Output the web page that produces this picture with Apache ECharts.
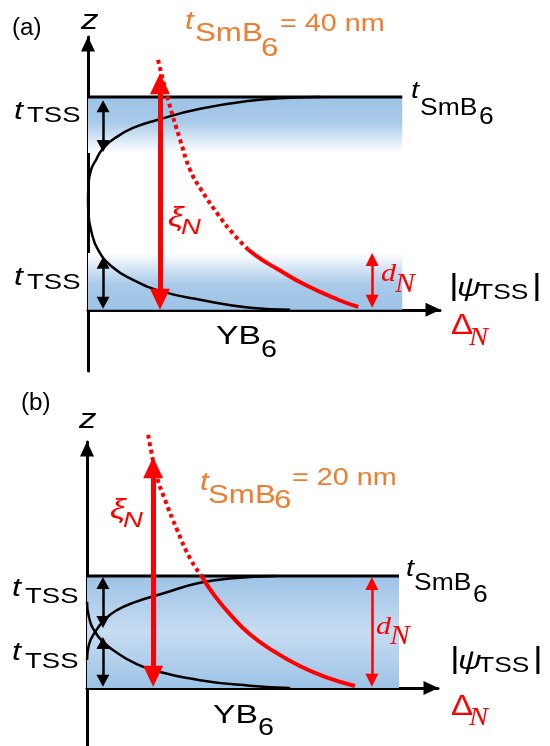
<!DOCTYPE html>
<html>
<head>
<meta charset="utf-8">
<script src="https://cdn.jsdelivr.net/npm/echarts@6/dist/echarts.min.js"></script>
<style>
html,body{margin:0;padding:0;background:#fff}
#chart{width:550px;height:746px}
</style>
</head>
<body>
<div id="chart"></div>
<script>
// x = |psi_TSS| / Delta_N (arb. units, slab width = 100), z in nm
var thickA = 40;            // panel (a) t_SmB6
var thickB = 20;            // panel (b) t_SmB6
var fadeA = [29.5, 10.7];   // where the blue shading of the two TSS fades out in (a)
var slabW = 100;

// black |psi_TSS| curves
var psiTopA = [[0,20.7],[0.16,23.5],[0.96,26.3],[2.55,28.2],[4.46,30.1],[8.6,32.3],[14.3,34.2],[22,35.7],[35.7,37.8],[51.6,39.3],[64.3,39.86],[73.9,40]];
var psiBotA = [[0,20.7],[0.16,17.9],[0.96,15],[3.18,11.3],[7.64,8.1],[14.3,5.64],[22.9,3.57],[35.7,1.88],[51.6,0.38],[64.3,0]];
var psiTopB = [[0,5],[0.6,7.7],[2.6,10],[5.8,12.3],[9.6,13.9],[14.7,15.2],[25.6,17.1],[36.2,18.8],[46.8,19.6],[60.3,20]];
var psiBotB = [[0,15.4],[0.6,12.7],[2.6,10],[5.8,7.9],[9.6,6.3],[14.7,4.6],[21.2,3.2],[36.2,1.4],[52.2,0.4],[65.1,0]];

// red Delta_N curves (dotted part outside SmB6, solid part inside)
var gapDotA = [[22.3,47],[25.5,39.5],[29.3,32],[32.5,26.3],[36,22.6],[41.4,17.9],[46.5,14.1],[51,11.3]];
var gapA = [[51,11.3],[55.4,9.4],[59.6,7.9],[69.1,4.7],[79.6,1.9],[86,0.56]];
var gapDotB = [[19.6,45.2],[20.5,42.5],[22.4,37.7],[25,33.6],[28.9,28.2],[33,23.2],[36.9,19.8]];
var gapB = [[36.9,19.8],[41,16.4],[45.8,13.2],[52.2,9.6],[60.3,6.4],[68.3,3.9],[76.3,2],[85.9,0.36]];

// arrows: [x, z bottom tip, z top tip]
var xiA = [22.9, 0, 44.5];
var tssA = [[4.8, 29.7, 39.4], [4.8, 0.2, 10.0]];
var dA = [90.4, 0.4, 10.7];
var xiB = [21.2, 0.2, 41.2];
var tssB = [[5.1, 10.7, 19.8], [5.1, 0.2, 9.1]];
var dB = [91.3, 0.2, 19.8];

var RED = '#FF0000', ORANGE = '#ED7D31', BLUE = '#9DC3E6', BLUE_LT = '#C6DCF1', K = '#000';

var grids = [
  {left: 88, top: 37, width: 352, height: 334},
  {left: 87, top: 442, width: 351, height: 304}
];
var zRange = [[-11.5, 51.3], [-10.36, 43.93]];
var xMax = [112, 112.5];

function axisLine() {
  return {show: true, onZero: true, symbol: ['none', 'triangle'], symbolSize: [14, 15],
    symbolOffset: [0, -7], lineStyle: {color: K, width: 3}};
}

var xAxes = [], yAxes = [];
for (var p = 0; p < 2; p++) {
  xAxes.push({type: 'value', gridIndex: p, min: 0, max: xMax[p], axisLine: axisLine(),
    axisTick: {show: false}, axisLabel: {show: false}, splitLine: {show: false}});
  yAxes.push({type: 'value', gridIndex: p, min: zRange[p][0], max: zRange[p][1], axisLine: axisLine(),
    axisTick: {show: false}, axisLabel: {show: false}, splitLine: {show: false}});
}

function grad(stops) {
  return new echarts.graphic.LinearGradient(0, 0, 0, 1, stops.map(function (s) {
    return {offset: s[0], color: s[1]};
  }));
}

function curve(data, color, lw, dash, panel) {
  return {type: 'line', xAxisIndex: panel, yAxisIndex: panel, data: data, smooth: 0.5,
    showSymbol: false, symbol: 'none', clip: false, silent: true, z: 3,
    lineStyle: {color: color, width: lw, type: dash || 'solid', cap: 'butt'}};
}

// double headed arrow, tips land on the given z values
function arrow(a, w, h, color, lw, panel) {
  var ppn = grids[panel].height / (zRange[panel][1] - zRange[panel][0]);
  var d = h / 2 / ppn;
  return {type: 'line', xAxisIndex: panel, yAxisIndex: panel, data: [], silent: true, z: 5,
    markLine: {silent: true, animation: false, symbol: ['triangle', 'triangle'], symbolSize: [w, h],
      label: {show: false}, emphasis: {disabled: true},
      lineStyle: {color: color, width: lw, type: 'solid', opacity: 1},
      data: [[{coord: [a[0], a[1] + d]}, {coord: [a[0], a[2] - d]}]]}};
}

function slab(thick, areas, panel) {
  return {type: 'line', xAxisIndex: panel, yAxisIndex: panel, data: [[0, thick], [slabW, thick]],
    showSymbol: false, symbol: 'none', silent: true, z: 2,
    lineStyle: {color: K, width: 3},
    markArea: {silent: true, z: 1, data: areas}};
}

var series = [
  slab(thickA, [
    [{coord: [0, thickA], itemStyle: {color: grad([[0, BLUE], [0.45, '#A9CAE9'], [1, '#FFFFFF']])}}, {coord: [slabW, fadeA[0]]}],
    [{coord: [0, fadeA[1]], itemStyle: {color: grad([[0, '#FFFFFF'], [0.55, '#A9CAE9'], [1, BLUE]])}}, {coord: [slabW, 0]}]
  ], 0),
  slab(thickB, [
    [{coord: [0, thickB], itemStyle: {color: grad([[0, BLUE], [0.5, BLUE_LT], [1, BLUE]])}}, {coord: [slabW, 0]}]
  ], 1),
  curve(psiTopA, K, 2.5, null, 0),
  curve(psiBotA, K, 2.5, null, 0),
  curve(psiTopB, K, 2.5, null, 1),
  curve(psiBotB, K, 2.5, null, 1),
  curve(gapDotA, RED, 4, [4, 3.5], 0),
  curve(gapA, RED, 4, null, 0),
  curve(gapDotB, RED, 4, [4, 3.5], 1),
  curve(gapB, RED, 4, null, 1),
  arrow(xiA, 20, 21, RED, 5, 0),
  arrow(tssA[0], 13, 12, K, 2.5, 0),
  arrow(tssA[1], 13, 12, K, 2.5, 0),
  arrow(dA, 13, 13, RED, 2.5, 0),
  arrow(xiB, 20, 21, RED, 5, 1),
  arrow(tssB[0], 13, 12, K, 2.5, 1),
  arrow(tssB[1], 13, 12, K, 2.5, 1),
  arrow(dB, 13, 13, RED, 2.5, 1)
];

var S = '"Liberation Sans", Arial, sans-serif';
var SER = '"Liberation Serif", "DejaVu Serif", serif';
// [text, left, middle, size, colour, italic, family, stretch]
var labels = [
  ['(a)', 12, 29, 23, K, 0, S, 1.05],
  ['z', 81, 21, 28, K, 1, S],
  ['t', 14, 112, 26, K, 1, S], ['TSS', 27, 116, 22, K, 0, S],
  ['t', 14, 278, 26, K, 1, S], ['TSS', 27, 283, 22, K, 0, S],
  ['t', 411, 92, 23, K, 1, S], ['SmB', 420, 108.5, 23, K, 0, S, 1.15], ['6', 479, 118, 23, K, 0, S, 1.15],
  ['t', 185, 22, 25, ORANGE, 1, S], ['SmB', 195, 34, 25, ORANGE, 0, S], ['6', 261, 49, 25, ORANGE, 0, S],
  ['= 40 nm', 280, 24, 24, ORANGE, 0, S, 1.2],
  ['ξ', 168, 218, 28, RED, 1, S], ['N', 181, 228, 22, RED, 1, S],
  ['d', 381, 274, 25, RED, 1, SER, 1.2], ['N', 395, 285, 27, RED, 1, SER, 1.1],
  ['|', 449, 287, 30, K, 0, S], ['ψ', 457, 289, 26, K, 1, S], ['TSS', 477, 293, 22, K, 0, S, 1.2], ['|', 532, 287, 30, K, 0, S],
  ['Δ', 451, 326, 30, RED, 0, S, 1.1], ['N', 469, 338, 26, RED, 1, SER, 1.1],
  ['YB', 216, 337.5, 25, K, 0, S, 1.35], ['6', 261, 351, 23, K, 0, S],

  ['(b)', 21, 404, 23, K, 0, S, 1.05],
  ['z', 79, 420, 28, K, 1, S],
  ['t', 200, 483, 25, ORANGE, 1, S], ['SmB', 208, 496, 25, ORANGE, 0, S], ['6', 274, 501, 25, ORANGE, 0, S],
  ['= 20 nm', 292, 478, 24, ORANGE, 0, S, 1.2],
  ['ξ', 110, 510, 28, RED, 1, S], ['N', 123, 521, 22, RED, 1, S],
  ['t', 12, 589, 26, K, 1, S], ['TSS', 25, 597, 22, K, 0, S],
  ['t', 12, 653, 26, K, 1, S], ['TSS', 25, 662, 22, K, 0, S],
  ['t', 406, 570, 23, K, 1, S], ['SmB', 414, 584, 23, K, 0, S, 1.15], ['6', 473, 596, 23, K, 0, S, 1.15],
  ['d', 376, 627, 25, RED, 1, SER, 1.2], ['N', 390, 637, 27, RED, 1, SER, 1.1],
  ['|', 450, 660, 30, K, 0, S], ['ψ', 458, 662, 26, K, 1, S], ['TSS', 478, 666, 22, K, 0, S, 1.2], ['|', 533, 660, 30, K, 0, S],
  ['Δ', 451, 707, 30, RED, 0, S, 1.1], ['N', 469, 718, 26, RED, 1, SER, 1.1],
  ['YB', 213, 716, 25, K, 0, S, 1.35], ['6', 258, 729, 23, K, 0, S]
];

var graphics = labels.map(function (l) {
  return {type: 'text', x: l[1], y: l[2], scaleX: l[7] || 1.25, silent: true, z: 100,
    style: {text: l[0], fontSize: l[3], fill: l[4], fontStyle: l[5] ? 'italic' : 'normal',
      fontFamily: l[6], align: 'left', verticalAlign: 'middle'}};
});

var chart = echarts.init(document.getElementById('chart'));
chart.setOption({
  animation: false,
  backgroundColor: '#fff',
  grid: grids,
  xAxis: xAxes,
  yAxis: yAxes,
  series: series,
  graphic: graphics
});
</script>
</body>
</html>
